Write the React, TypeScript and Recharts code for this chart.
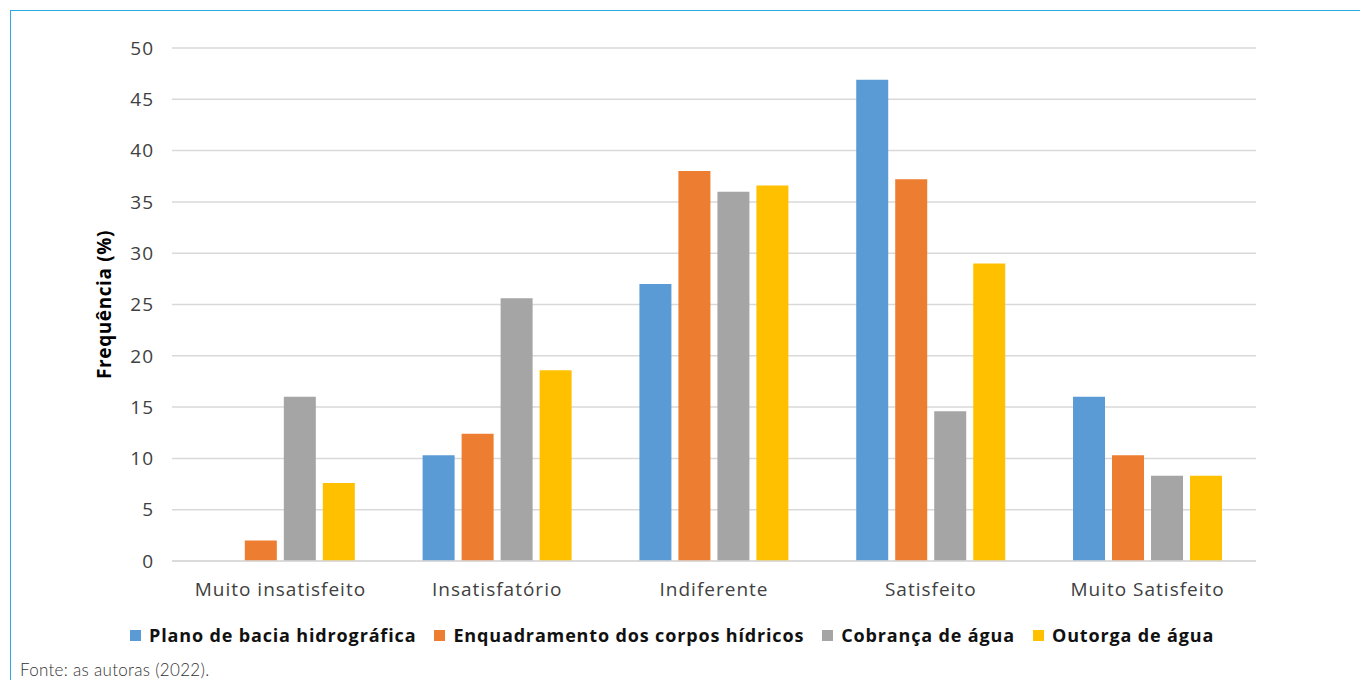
import React from 'react';
import { BarChart, Bar, XAxis, YAxis, CartesianGrid, Label } from 'recharts';

const categories = ['Muito insatisfeito', 'Insatisfatório', 'Indiferente', 'Satisfeito', 'Muito Satisfeito'];
const planoBacia = [0, 10.3, 27, 46.9, 16];
const enquadramento = [2, 12.4, 38, 37.2, 10.3];
const cobranca = [16, 25.6, 36, 14.6, 8.3];
const outorga = [7.6, 18.6, 36.6, 29, 8.3];
const yTicks = [0, 5, 10, 15, 20, 25, 30, 35, 40, 45, 50];

const series = [
  { key: 'plano', name: 'Plano de bacia hidrográfica', color: '#5b9bd5' },
  { key: 'enquadramento', name: 'Enquadramento dos corpos hídricos', color: '#ed7d31' },
  { key: 'cobranca', name: 'Cobrança de água', color: '#a5a5a5' },
  { key: 'outorga', name: 'Outorga de água', color: '#ffc000' },
];

const chartData = categories.map((c, i) => ({
  category: c,
  plano: planoBacia[i],
  enquadramento: enquadramento[i],
  cobranca: cobranca[i],
  outorga: outorga[i],
}));

const font = '"Open Sans", sans-serif';

export default function App() {
  return (
    <div style={{ position: 'absolute', left: 0, top: 0, width: 1360, height: 680, background: '#fff', fontFamily: font }}>
      {/* moldura azul */}
      <div style={{ position: 'absolute', left: 10, top: 10, right: 0, bottom: 0, borderLeft: '1.5px solid #29abe2', borderTop: '1.5px solid #29abe2' }} />
      <div style={{ position: 'absolute', left: 0, top: 0 }}>
        <BarChart
          width={1360}
          height={680}
          data={chartData}
          margin={{ top: 48, right: 104, left: 100, bottom: 79 }}
          barCategoryGap="15.6%"
          barGap={7}
        >
          <CartesianGrid vertical={false} stroke="#d9d9d9" strokeWidth={1.5} />
          <XAxis
            dataKey="category"
            height={40}
            axisLine={{ stroke: '#d9d9d9', strokeWidth: 1.5 }}
            tickLine={false}
            tick={{ fill: '#404040', fontSize: 19, fontFamily: font, letterSpacing: 1 }}
            tickMargin={16}
          />
          <YAxis
            width={72}
            domain={[0, 50]}
            ticks={yTicks}
            axisLine={false}
            tickLine={false}
            tick={{ fill: '#404040', fontSize: 19, fontFamily: font, letterSpacing: 1 }}
            tickMargin={12}
          >
            <Label
              value="Frequência (%)"
              angle={-90}
              position="insideLeft"
              offset={4}
              style={{ fill: '#000', fontSize: 19, fontWeight: 700, fontFamily: font, letterSpacing: 0.6, textAnchor: 'middle' }}
            />
          </YAxis>
          {series.map((s) => (
            <Bar key={s.key} dataKey={s.key} name={s.name} fill={s.color} isAnimationActive={false} />
          ))}
        </BarChart>
      </div>
      {/* legenda */}
      <div style={{ position: 'absolute', left: 130, top: 623, display: 'flex', alignItems: 'center', fontSize: 18, fontWeight: 700, letterSpacing: 0.85, color: '#111' }}>
        {series.map((s) => (
          <div key={s.key} style={{ display: 'flex', alignItems: 'center', marginRight: 18 }}>
            <span style={{ display: 'inline-block', width: 11, height: 11, background: s.color, marginRight: 8 }} />
            <span>{s.name}</span>
          </div>
        ))}
      </div>
      <div style={{ position: 'absolute', left: 20, top: 659, fontSize: 17, fontWeight: 300, letterSpacing: 0.3, color: '#333', fontFamily: 'Lato, sans-serif' }}>
        Fonte: as autoras (2022).
      </div>
    </div>
  );
}
